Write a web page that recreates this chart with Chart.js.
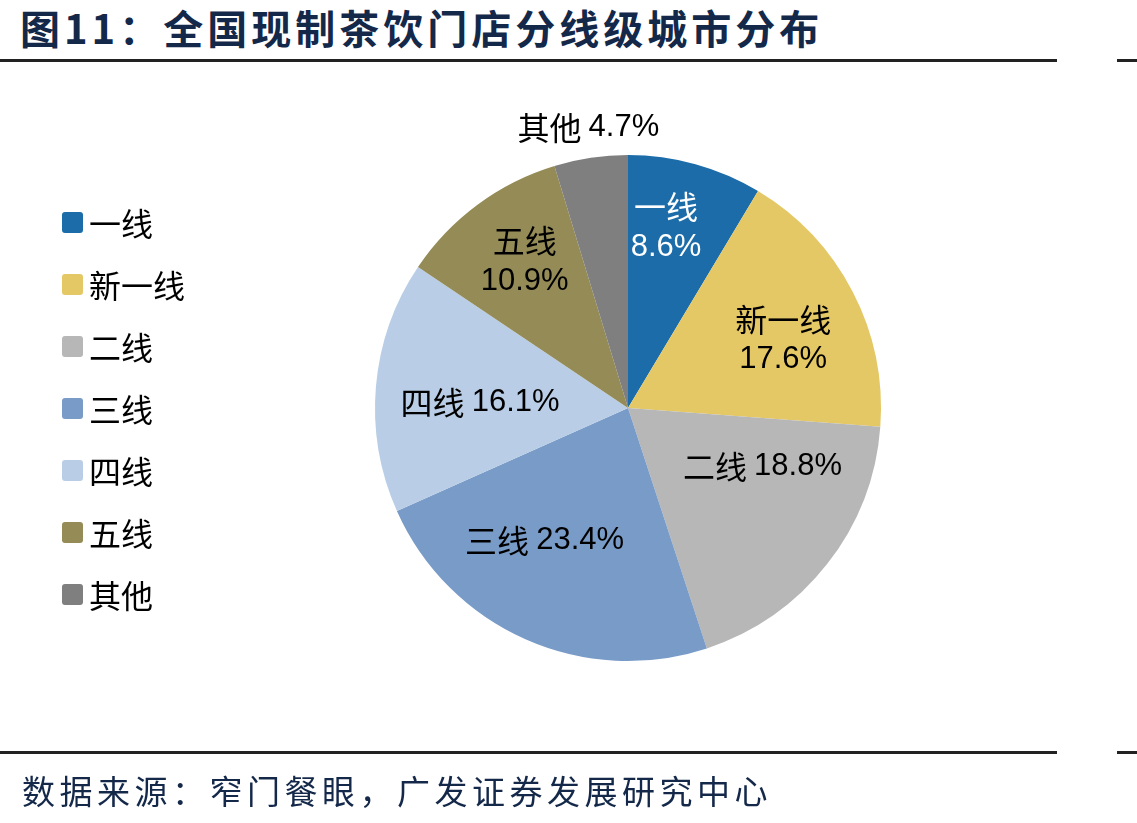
<!DOCTYPE html>
<html>
<head>
<meta charset="utf-8">
<script src="https://cdn.jsdelivr.net/npm/chart.js@4.4.1/dist/chart.umd.min.js"></script>
<style>
    body { margin: 0; background: #fff; }
    #wrap { position: relative; width: 1137px; height: 823px; overflow: hidden; }
    #title { position: absolute; left: 20px; top: -2px; font: bold 40px "Noto Sans CJK SC", sans-serif; color: #14284a; letter-spacing: 4px; white-space: nowrap; }
    .rule { position: absolute; height: 3px; background: #222; }
    #source { position: absolute; left: 22px; top: 766px; font: 33px "Noto Sans CJK SC", sans-serif; color: #14284a; letter-spacing: 4.5px; white-space: nowrap; }
    #legend { position: absolute; left: 62px; top: 191px; }
    .item { height: 62px; display: flex; align-items: center; font: 32px "Noto Sans CJK SC", sans-serif; color: #000; }
    .box { width: 21px; height: 21px; border-radius: 3px; margin-right: 6px; }
    canvas { position: absolute; left: 0; top: 0; }
</style>
</head>
<body>
<div id="wrap">
    <div id="title">图11：全国现制茶饮门店分线级城市分布</div>
    <div class="rule" style="left:0;top:59px;width:1057px"></div>
    <div class="rule" style="left:1117px;top:59px;width:20px"></div>
    <canvas id="pie-chart" width="1137" height="823"></canvas>
    <div id="legend"></div>
    <div class="rule" style="left:0;top:751px;width:1057px"></div>
    <div class="rule" style="left:1117px;top:751px;width:20px"></div>
    <div id="source">数据来源：窄门餐眼，广发证券发展研究中心</div>
</div>
<script>
const tierLabels = ["一线", "新一线", "二线", "三线", "四线", "五线", "其他"];
const tierShares = [8.6, 17.6, 18.8, 23.4, 16.1, 10.9, 4.7];
const tierColors = ["#1b6ca8", "#e5c866", "#b7b7b7", "#799bc8", "#b9cee6", "#958b56", "#7f7f7f"];

// label placement: angle shift (deg) from slice middle, distance as share of radius, two lines or one
const labelShift = [-3.6, 3.7, -14.4, 8.2, -2.9, 1.4, 0.4];
const labelDist = [0.73, 0.67, 0.58, 0.62, 0.585, 0.71, 1.12];
const labelTwoLines = [true, true, false, false, false, true, false];
const labelColors = ["#fff", "#000", "#000", "#000", "#000", "#000", "#000"];

// build the html legend
const legendDiv = document.getElementById('legend');
tierLabels.forEach((name, i) => {
    const row = document.createElement('div');
    row.className = 'item';
    row.innerHTML = '<span class="box" style="background:' + tierColors[i] + '"></span>' + name;
    legendDiv.appendChild(row);
});

const cjkFont = '32px "Noto Sans CJK SC", sans-serif';
const numFont = '31px "Liberation Sans", Arial, sans-serif';

const sliceLabels = {
    id: 'sliceLabels',
    afterDatasetsDraw(chart) {
        const ctx = chart.ctx;
        const arcs = chart.getDatasetMeta(0).data;
        ctx.save();
        ctx.textBaseline = 'middle';
        arcs.forEach((arc, i) => {
            const mid = (arc.startAngle + arc.endAngle) / 2 + labelShift[i] * Math.PI / 180;
            const dist = arc.outerRadius * labelDist[i];
            const cx = arc.x + Math.cos(mid) * dist;
            const cy = arc.y + Math.sin(mid) * dist;
            const name = tierLabels[i];
            const pct = tierShares[i].toFixed(1) + '%';
            ctx.fillStyle = labelColors[i];
            if (labelTwoLines[i]) {
                ctx.textAlign = 'center';
                ctx.font = cjkFont;
                ctx.fillText(name, cx, cy - 20);
                ctx.font = numFont;
                ctx.fillText(pct, cx, cy + 20);
            } else {
                ctx.font = cjkFont;
                const w1 = ctx.measureText(name + ' ').width;
                ctx.font = numFont;
                const w2 = ctx.measureText(pct).width;
                let x = cx - (w1 + w2) / 2;
                ctx.textAlign = 'left';
                ctx.font = cjkFont;
                ctx.fillText(name, x, cy);
                ctx.font = numFont;
                ctx.fillText(pct, x + w1, cy);
            }
        });
        ctx.restore();
    }
};

new Chart(document.getElementById('pie-chart'), {
    type: 'pie',
    data: {
        labels: tierLabels,
        datasets: [{
            data: tierShares,
            backgroundColor: tierColors,
            borderWidth: 0
        }]
    },
    options: {
        responsive: false,
        animation: false,
        layout: { padding: { left: 375, right: 256, top: 155, bottom: 162 } },
        plugins: {
            legend: { display: false },
            tooltip: { enabled: false }
        }
    },
    plugins: [sliceLabels]
});
</script>
</body>
</html>
